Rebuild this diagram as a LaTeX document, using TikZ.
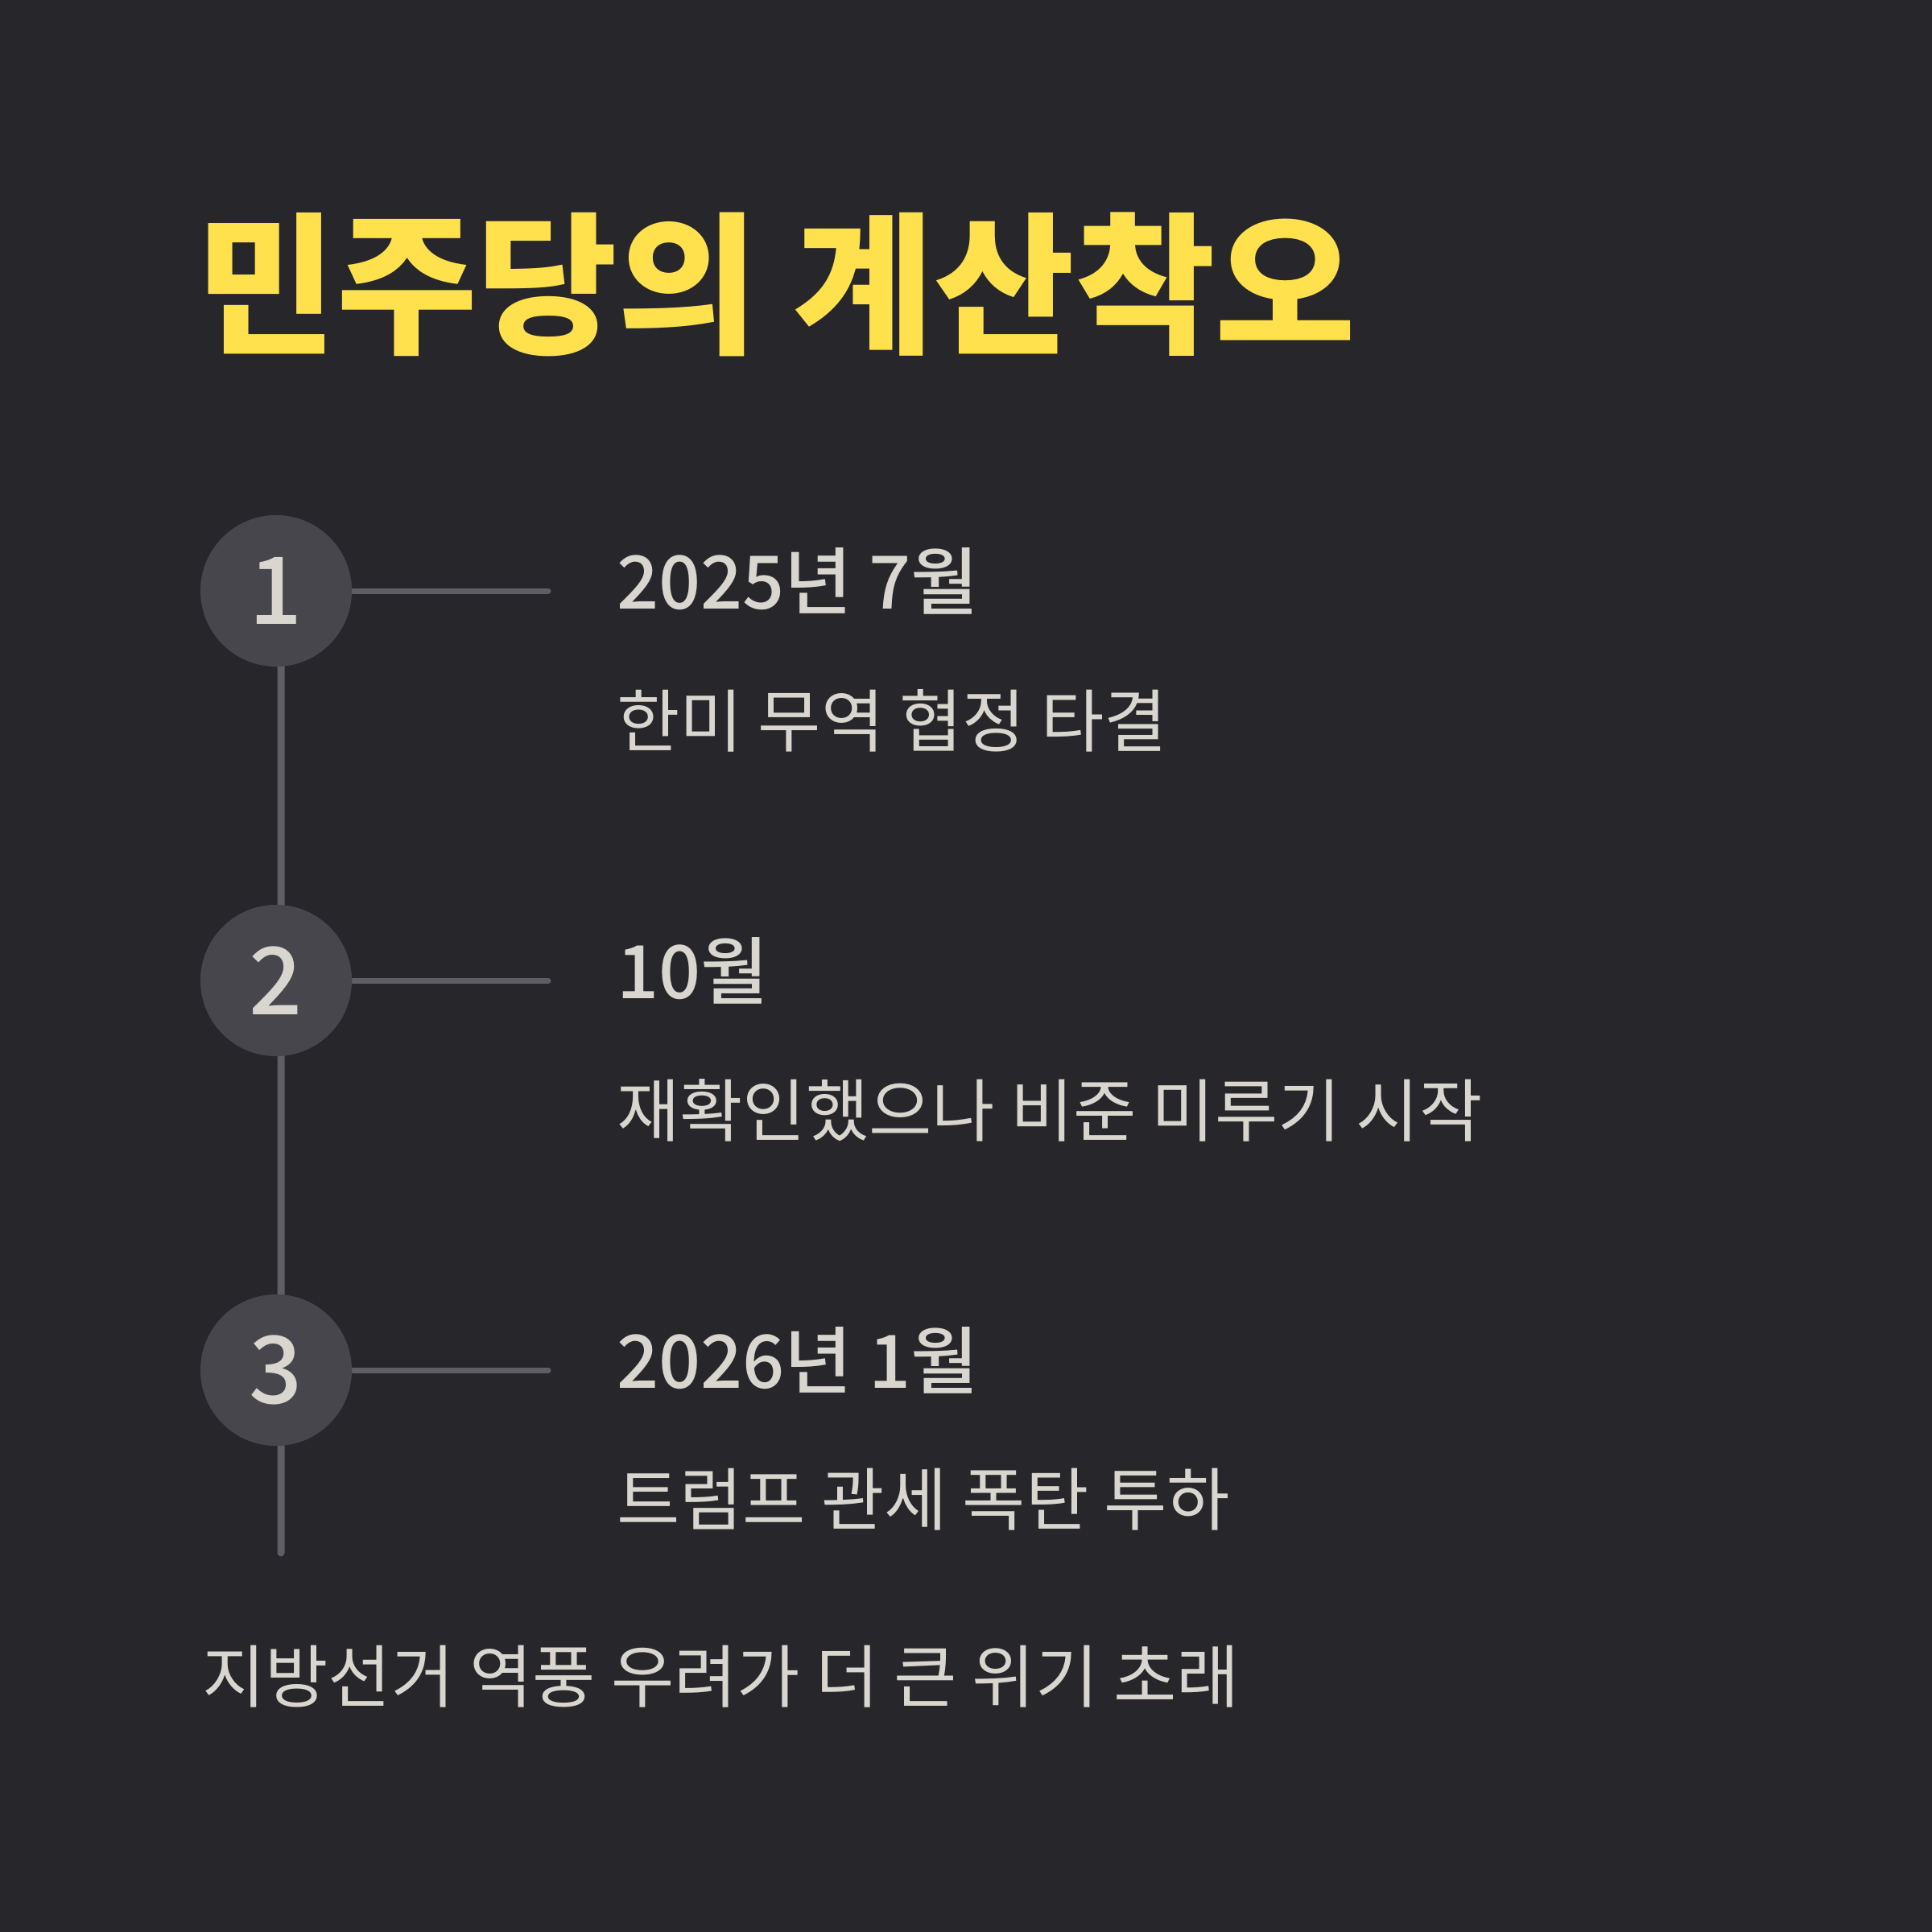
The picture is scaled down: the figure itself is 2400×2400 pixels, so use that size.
\documentclass[tikz,border=0pt]{standalone}
\usepackage{fontspec}
\setmainfont{Noto Sans CJK KR}
\newfontfamily\krmedium{Noto Sans CJK KR Medium}
\usetikzlibrary{backgrounds,positioning}
\definecolor{bgdark}{RGB}{38,38,43}
\definecolor{circlegray}{RGB}{70,70,76}
\definecolor{railgray}{RGB}{94,94,100}
\definecolor{lightink}{RGB}{216,214,206}
\definecolor{titleyellow}{RGB}{255,225,77}
\tikzset{every picture/.style={line width=0.75pt}}

\begin{document}
\begin{tikzpicture}[x=0.01cm,y=-0.01cm,
    stepnum/.style={circle, fill=circlegray, minimum size=1.88cm, inner sep=0pt,
      text=lightink, font=\krmedium\fontsize{33}{33}\selectfont},
    datehead/.style={anchor=west, inner sep=0pt, text=lightink,
      font=\krmedium\fontsize{26}{26}\selectfont},
    eventtext/.style={anchor=west, inner sep=0pt, text=lightink,
      font=\fontsize{24.2}{24.2}\selectfont},
    rail/.style={draw=railgray, line width=0.09cm, line cap=round},
    branch/.style={draw=railgray, line width=0.07cm, line cap=round}]
    \useasboundingbox (0,0) rectangle (2400,2400);

    % 제목
    \node[anchor=west, inner sep=0pt, text=titleyellow,
      font=\bfseries\fontsize{54}{54}\selectfont] (title) at (242,353) {민주당의 계산착오};

    % 단계 원
    \node[stepnum] (c1) at (343,734) {1};
    \node[stepnum] (c2) at (343,1218) {2};
    \node[stepnum] (c3) at (343,1702) {3};

    % 날짜와 내용
    \node[datehead] (d1) at (765,722) {2025년 7월};
    \node[eventtext] (e1) at (765,895) {한미 무역 협정 타결};
    \node[datehead] (d2) at (765,1206) {10월};
    \node[eventtext] (e2) at (765,1379) {재확인했으나 비준 미루기 시작};
    \node[datehead] (d3) at (765,1690) {2026년 1월};
    \node[eventtext] (e3) at (765,1863) {트럼프 관세 폭탄 투하};

    % 결론
    \node[eventtext] (summary) at (250,2083) {지방선거 역풍 우려가 더 큰 위기 초래};

    % 축과 가지
    \coordinate (railend) at (349,1929);
    \coordinate (b1) at (681,734);
    \coordinate (b2) at (681,1218);
    \coordinate (b3) at (681,1702);
    \begin{scope}[on background layer]
      \fill[bgdark] (0,0) rectangle (2400,2400);
      \draw[rail] ([xshift=0.06cm]c1.center) -- (railend);
      \draw[branch] (c1.east) -- (b1);
      \draw[branch] (c2.east) -- (b2);
      \draw[branch] (c3.east) -- (b3);
    \end{scope}
\end{tikzpicture}
\end{document}
